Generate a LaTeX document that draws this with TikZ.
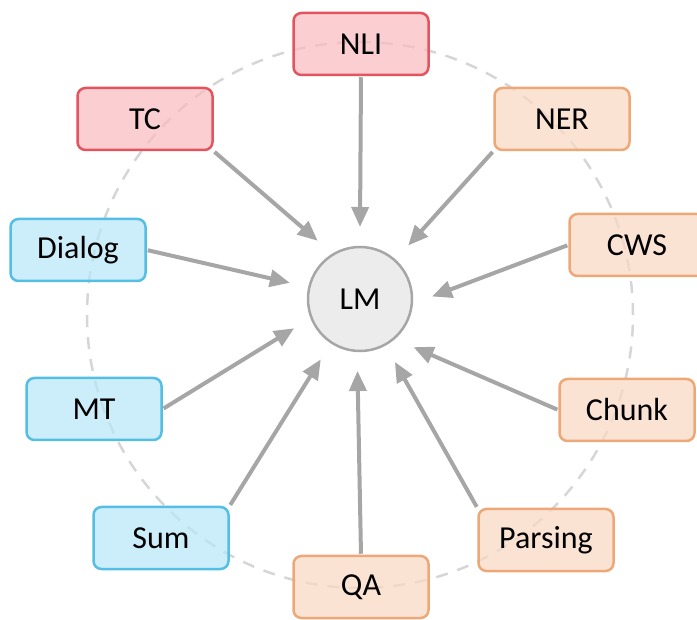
\documentclass[tikz,border=0pt]{standalone}
\usepackage{fontspec}
\setmainfont{Carlito}
\usetikzlibrary{arrows.meta,calc}
\definecolor{redfill}{RGB}{249,188,193}
\definecolor{reddraw}{RGB}{228,84,94}
\definecolor{orgfill}{RGB}{250,216,196}
\definecolor{orgdraw}{RGB}{238,168,120}
\definecolor{bluefill}{RGB}{184,230,248}
\definecolor{bluedraw}{RGB}{84,190,228}
\definecolor{lmfill}{RGB}{236,236,236}
\definecolor{lmdraw}{RGB}{166,166,166}
\definecolor{arrowgray}{RGB}{166,166,166}
\definecolor{dashgray}{RGB}{214,214,214}
\tikzset{
  task/.style={rectangle, rounded corners=8pt, line width=2.5pt, minimum width=135pt, minimum height=62pt,
    fill opacity=0.72, text opacity=1, inner sep=0pt, font=\fontsize{32}{38}\selectfont},
  redtask/.style={task, draw=reddraw, fill=redfill},
  orgtask/.style={task, draw=orgdraw, fill=orgfill},
  bluetask/.style={task, draw=bluedraw, fill=bluefill},
  lmnode/.style={circle, draw=lmdraw, fill=lmfill, line width=2.5pt, minimum size=104pt, inner sep=0pt,
    font=\fontsize{32}{38}\selectfont},
  feed/.style={draw=arrowgray, line width=4pt, -{Triangle[length=20pt,width=17pt]}, shorten <=1pt},
  ring/.style={draw=dashgray, line width=2.5pt, dash pattern=on 12pt off 10pt}
}
\begin{document}
\begin{tikzpicture}[x=1pt,y=-1pt]
\useasboundingbox (0,0) rectangle (697,620);
\draw[ring] (360,315) circle[radius=273pt];
\node[lmnode] (LM) at (360,299) {LM};
\foreach \n/\a in {NLI/90,TC/126,NER/48,Dialog/167,CWS/2,MT/204,Sum/237,QA/268,Parsing/299,Chunk/318}
  \coordinate (t\n) at ($(LM.center)+(\a:72pt)$);
\node[redtask] (NLI) at (361,44) {NLI};
\node[redtask] (TC) at (145,119) {TC};
\node[orgtask] (NER) at (562,119) {NER};
\node[bluetask] (Dialog) at (78,250) {Dialog};
\node[orgtask] (CWS) at (637,245) {CWS};
\node[bluetask] (MT) at (94,409) {MT};
\node[orgtask] (Chunk) at (627,410) {Chunk};
\node[bluetask] (Sum) at (161,538) {Sum};
\node[orgtask] (Parsing) at (546,540) {Parsing};
\node[orgtask] (QA) at (361,587) {QA};
\draw[feed] (NLI.south) -- (tNLI);
\draw[feed] (TC.south east) -- (tTC);
\draw[feed] (NER.south west) -- (tNER);
\draw[feed] (Dialog.east) -- (tDialog);
\draw[feed] (CWS.west) -- (tCWS);
\draw[feed] (MT.east) -- (tMT);
\draw[feed] (Sum.north east) -- (tSum);
\draw[feed] (QA.north) -- (tQA);
\draw[feed] (Parsing.north west) -- (tParsing);
\draw[feed] (Chunk.west) -- (tChunk);
\end{tikzpicture}
\end{document}
